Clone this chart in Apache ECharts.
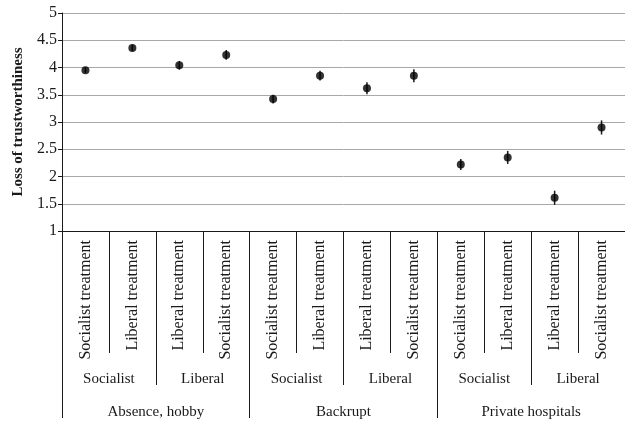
<!DOCTYPE html>
<html>
<head>
<meta charset="utf-8">
<script src="https://cdn.jsdelivr.net/npm/echarts@6/dist/echarts.min.js"></script>
<style>
  html, body { margin: 0; padding: 0; background: #fff; }
  #chart { width: 625px; height: 424px; }
</style>
</head>
<body>
<div id="chart"></div>
<script>
// Innermost level: treatment shown to each respondent group
const treatments = [
  'Socialist treatment', 'Liberal treatment', 'Liberal treatment', 'Socialist treatment',
  'Socialist treatment', 'Liberal treatment', 'Liberal treatment', 'Socialist treatment',
  'Socialist treatment', 'Liberal treatment', 'Liberal treatment', 'Socialist treatment'
];
// Middle level: respondent ideology
const ideologies = ['Socialist', 'Liberal', 'Socialist', 'Liberal', 'Socialist', 'Liberal'];
// Outer level: scenario
const scenarios = ['Absence, hobby', 'Backrupt', 'Private hospitals'];
// Mean loss of trustworthiness and error-bar half-width
const means = [3.95, 4.36, 4.04, 4.23, 3.42, 3.85, 3.62, 3.85, 2.22, 2.35, 1.61, 2.90];
const errors = [0.05, 0.06, 0.08, 0.09, 0.08, 0.09, 0.11, 0.12, 0.10, 0.12, 0.13, 0.13];
// Y-axis range
const yMin = 1, yMax = 5, yStep = 0.5;

const FONT = '"Liberation Serif", "DejaVu Serif", serif';
const INK = '#1a1a1a';

const chart = echarts.init(document.getElementById('chart'), null, { renderer: 'canvas' });

const pointData = means.map((v, i) => [i, v]);
const barData = means.map((v, i) => [i, v - errors[i], v + errors[i]]);

function levelAxis(cats, tickLen, labelMargin, rotate, fontSize, showLine) {
  return {
    type: 'category',
    data: cats,
    position: 'bottom',
    boundaryGap: true,
    axisLine: { show: showLine, lineStyle: { color: INK, width: 1 } },
    axisTick: { show: true, interval: 0, length: tickLen, lineStyle: { color: INK, width: 1 } },
    axisLabel: {
      interval: 0, rotate: rotate, margin: labelMargin,
      fontFamily: FONT, fontSize: fontSize, color: INK
    },
    splitLine: { show: false }
  };
}

chart.setOption({
  animation: false,
  backgroundColor: '#fff',
  grid: { left: 62, top: 13, width: 566, height: 218, containLabel: false },
  xAxis: [
    levelAxis(treatments, 122, 9, 90, 16, true),
    levelAxis(ideologies, 154, 141, 0, 15, false),
    levelAxis(scenarios, 187, 174, 0, 15, false)
  ],
  yAxis: {
    type: 'value',
    min: yMin, max: yMax, interval: yStep,
    name: 'Loss of trustworthiness',
    nameLocation: 'middle',
    nameGap: 36,
    nameRotate: 90,
    nameTextStyle: { fontFamily: FONT, fontSize: 15, fontWeight: 'bold', color: INK },
    axisLine: { show: true, lineStyle: { color: INK, width: 1 } },
    axisTick: { show: true, length: 4, lineStyle: { color: INK } },
    axisLabel: { fontFamily: FONT, fontSize: 16, color: INK, margin: 5 },
    splitLine: { show: true, lineStyle: { color: '#a8a8a8', width: 1 } }
  },
  series: [
    {
      type: 'custom',
      xAxisIndex: 0,
      data: barData,
      z: 3,
      renderItem: function (params, api) {
        const lo = api.coord([api.value(0), api.value(1)]);
        const hi = api.coord([api.value(0), api.value(2)]);
        return {
          type: 'line',
          shape: { x1: lo[0], y1: lo[1], x2: hi[0], y2: hi[1] },
          style: { stroke: INK, lineWidth: 1.5 }
        };
      }
    },
    {
      type: 'scatter',
      xAxisIndex: 0,
      data: pointData,
      symbol: 'circle',
      symbolSize: 8,
      itemStyle: { color: '#000' },
      z: 4
    }
  ]
});
</script>
</body>
</html>
